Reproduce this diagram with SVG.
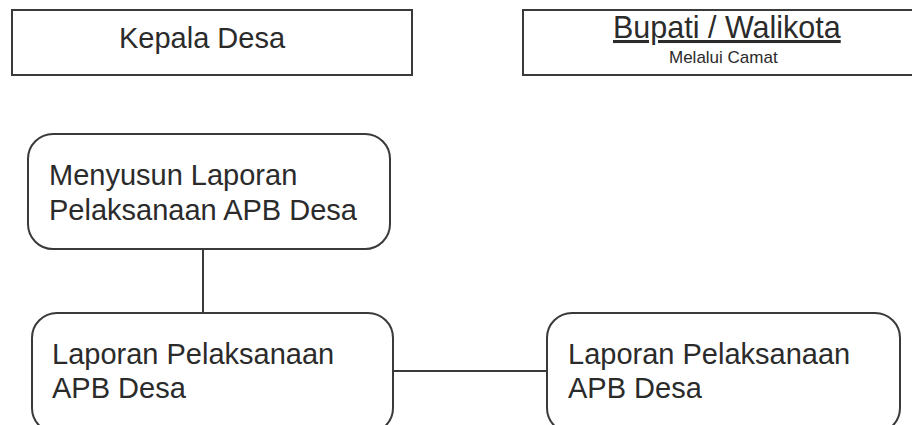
<svg xmlns="http://www.w3.org/2000/svg" width="912" height="425" viewBox="0 0 912 425">
  <style>
    .box { fill: #ffffff; stroke: #3a3a3a; stroke-width: 2; }
    .lbl { font-family: "Liberation Sans", Arial, sans-serif; fill: #2b2b2b; }
    .big { font-size: 29px; }
    .conn { stroke: #3a3a3a; stroke-width: 2; fill: none; }
  </style>
  <rect width="912" height="425" fill="#ffffff"/>

  <!-- connectors -->
  <g id="connectors">
    <line class="conn" x1="203" y1="249" x2="203" y2="313"/>
    <line class="conn" x1="393" y1="371" x2="547" y2="371"/>
  </g>

  <g id="kepala-desa">
    <rect class="box" x="12" y="10" width="400" height="65"/>
    <text class="lbl big" x="119" y="48">Kepala Desa</text>
  </g>

  <g id="bupati-walikota">
    <rect class="box" x="523" y="10" width="400" height="65"/>
    <text class="lbl" x="613" y="38" font-size="30.5" text-decoration="underline">Bupati / Walikota</text>
    <text class="lbl" x="669" y="63" font-size="17">Melalui Camat</text>
  </g>

  <g id="menyusun-laporan">
    <rect class="box" x="28" y="134" width="362" height="115" rx="25" ry="25"/>
    <text class="lbl big" x="49" y="185">Menyusun Laporan</text>
    <text class="lbl big" x="49" y="220">Pelaksanaan APB Desa</text>
  </g>

  <g id="laporan-desa">
    <rect class="box" x="32" y="313" width="361" height="120" rx="25" ry="25"/>
    <text class="lbl big" x="52" y="364">Laporan Pelaksanaan</text>
    <text class="lbl big" x="52" y="398">APB Desa</text>
  </g>

  <g id="laporan-bupati">
    <rect class="box" x="547" y="313" width="353" height="120" rx="25" ry="25"/>
    <text class="lbl big" x="568" y="364">Laporan Pelaksanaan</text>
    <text class="lbl big" x="568" y="398">APB Desa</text>
  </g>
</svg>
